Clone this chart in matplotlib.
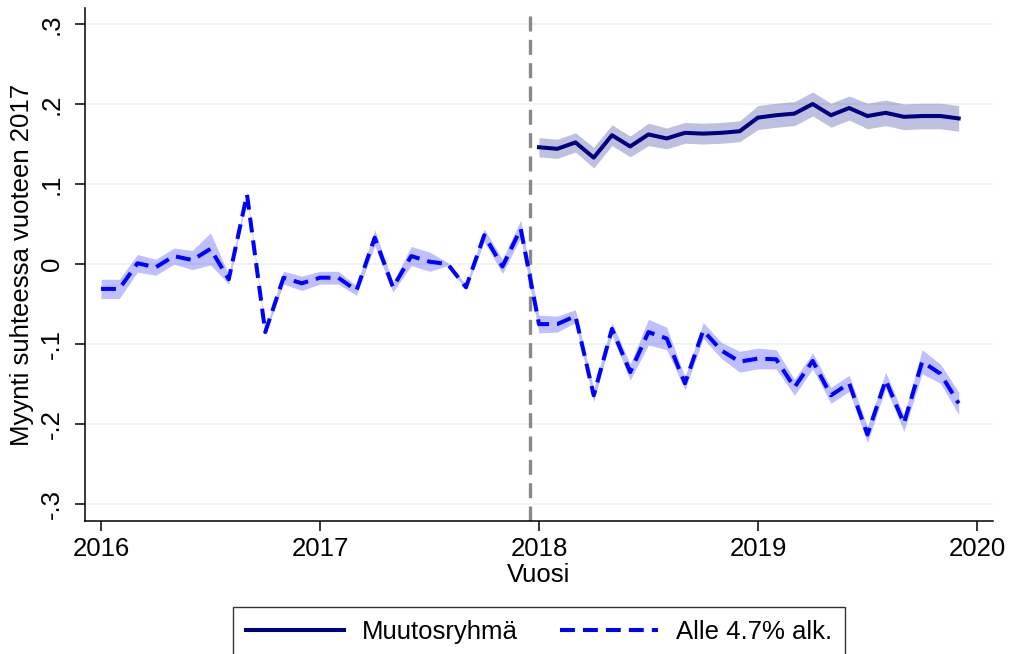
import numpy as np
import matplotlib
matplotlib.use("Agg")
from matplotlib import pyplot as plt

plt.rcParams["font.family"] = ["Liberation Sans", "DejaVu Sans"]

# monthly data
months_all = 2016 + np.arange(48) / 12      # dashed series, 2016-01 .. 2019-12
months_post = 2018 + np.arange(24) / 12     # solid series, 2018-01 .. 2019-12

alle = [-0.031, -0.031, 0.001, -0.004, 0.010, 0.005, 0.019, -0.019, 0.087, -0.085, -0.017, -0.024,
        -0.017, -0.017, -0.033, 0.033, -0.029, 0.010, 0.003, 0.000, -0.029, 0.036, -0.003, 0.044,
        -0.075, -0.075, -0.065, -0.164, -0.081, -0.135, -0.085, -0.093, -0.149, -0.083, -0.108, -0.122,
        -0.118, -0.119, -0.154, -0.121, -0.164, -0.149, -0.213, -0.145, -0.199, -0.122, -0.137, -0.174]
alle_ci = [0.012, 0.012, 0.011, 0.010, 0.010, 0.012, 0.020, 0.006, 0.003, 0.003, 0.008, 0.009,
           0.008, 0.008, 0.006, 0.010, 0.006, 0.012, 0.012, 0.002, 0.003, 0.008, 0.009, 0.011,
           0.011, 0.010, 0.008, 0.008, 0.008, 0.010, 0.016, 0.014, 0.008, 0.010, 0.010, 0.013,
           0.013, 0.012, 0.010, 0.010, 0.010, 0.010, 0.010, 0.010, 0.010, 0.015, 0.012, 0.014]

muutos = [0.146, 0.144, 0.152, 0.133, 0.161, 0.147, 0.162, 0.157, 0.164, 0.163, 0.164, 0.166,
          0.183, 0.186, 0.188, 0.200, 0.186, 0.195, 0.185, 0.189, 0.184, 0.185, 0.185, 0.182]
muutos_ci = [0.012, 0.012, 0.012, 0.013, 0.013, 0.013, 0.014, 0.013, 0.013, 0.013, 0.013, 0.013,
             0.015, 0.015, 0.015, 0.015, 0.015, 0.015, 0.016, 0.016, 0.016, 0.016, 0.016, 0.016]

yticks = [-0.3, -0.2, -0.1, 0, 0.1, 0.2, 0.3]
ytick_labels = ["-.3", "-.2", "-.1", "0", ".1", ".2", ".3"]
xticks = [2016, 2017, 2018, 2019, 2020]
cutoff = 2017 + 11.5 / 12

fig = plt.figure(figsize=(10.11, 6.54), dpi=100)
ax = fig.add_axes([0.0841, 0.2034, 0.898, 0.7844])

a = np.array(alle)
ac = np.array(alle_ci)
m = np.array(muutos)
mc = np.array(muutos_ci)

ax.fill_between(months_post, m - mc, m + mc, color="navy", alpha=0.25, lw=0)
ax.fill_between(months_all, a - ac, a + ac, color="blue", alpha=0.25, lw=0)
ax.axvline(cutoff, color="#8a8a8a", lw=2.4, dashes=(4.5, 2.5), zorder=1)
l1, = ax.plot(months_post, muutos, color="navy", lw=2.9, label="Muutosryhmä")
l2, = ax.plot(months_all, alle, color="blue", lw=2.9, dashes=(3.7, 2.0), label="Alle 4.7% alk.")

ax.set_xlim(2015.927, 2020.073)
ax.set_ylim(-0.321, 0.320)
ax.set_yticks(yticks)
ax.set_yticklabels(ytick_labels, rotation=90, va="center")
ax.set_xticks(xticks)
for y in yticks:
    ax.axhline(y, color="#eaf2f3", lw=1.1, zorder=0)

for s in ["top", "right"]:
    ax.spines[s].set_visible(False)
for s in ["left", "bottom"]:
    ax.spines[s].set_linewidth(1.1)
ax.tick_params(axis="both", length=7.2, width=1.1, labelsize=18.5)
ax.tick_params(axis="y", pad=8)
ax.tick_params(axis="x", pad=4)

ax.set_xlabel("Vuosi", fontsize=18.5, labelpad=2)
ax.set_ylabel("Myynti suhteessa vuoteen 2017", fontsize=18.5, labelpad=4)

leg = fig.legend(handles=[l1, l2], loc="upper center", bbox_to_anchor=(0.533, 0.0719),
                 ncol=2, fontsize=18.5, frameon=True, fancybox=False, edgecolor="black",
                 handlelength=3.8, handletextpad=0.7, columnspacing=1.65, borderpad=0.5,
                 borderaxespad=0)
leg.get_frame().set_linewidth(1.0)

fig.savefig("out.png", dpi=100)
